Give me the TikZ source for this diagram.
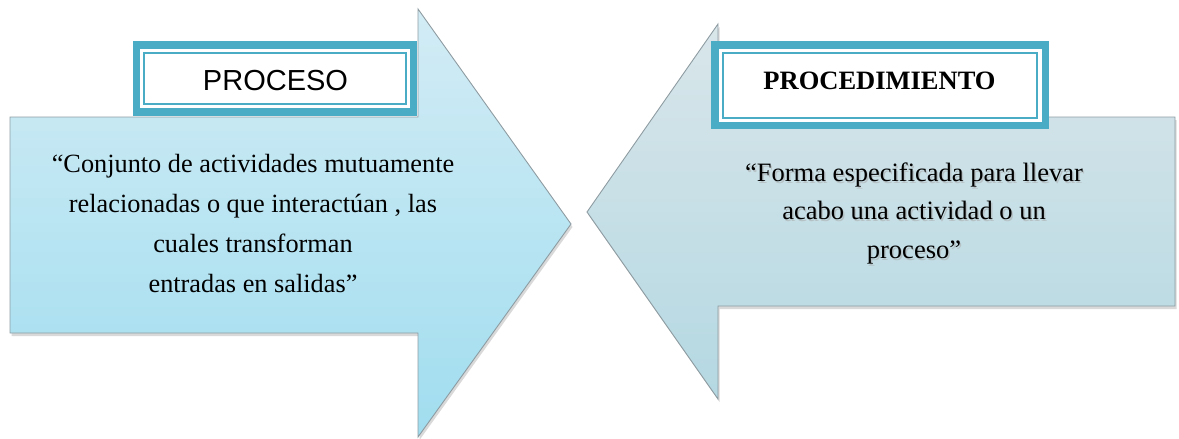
\documentclass[tikz,border=0pt]{standalone}
\usepackage{fontspec}
\setmainfont{Liberation Serif}
\newfontfamily\headsans{Liberation Sans}
\usetikzlibrary{shadows}
\definecolor{teal}{HTML}{4BACC6}
\definecolor{edgegray}{HTML}{8E9CA2}
\definecolor{procTop}{HTML}{D3ECF5}
\definecolor{procBot}{HTML}{A0DDEF}
\definecolor{procdTop}{HTML}{D9E6EA}
\definecolor{procdBot}{HTML}{B4D8E2}
\tikzset{
  bigarrow/.style={draw=edgegray, line width=0.9pt, line join=miter,
    drop shadow={shadow xshift=1.5pt, shadow yshift=-3pt, opacity=0.25, fill=black!60}},
  titleouter/.style={fill=teal, draw=none},
  titleinner/.style={fill=white, draw=none},
  titleline/.style={draw=teal, line width=1.6pt},
  bodytext/.style={align=center, inner sep=0pt, text=black},
}
\begin{document}
\begin{tikzpicture}[x=1pt, y=-1pt]
\useasboundingbox (0,0) rectangle (1179,439);

% arrow pointing right
\path[bigarrow, top color=procTop, bottom color=procBot]
  (10,117) -- (418,117) -- (418,9) -- (571,224) -- (418,437) -- (418,333) -- (10,333) -- cycle;

% arrow pointing left
\path[bigarrow, top color=procdTop, bottom color=procdBot]
  (1175,117) -- (718,117) -- (718,24) -- (587,212) -- (718,399) -- (718,306) -- (1175,306) -- cycle;

% title frames
\fill[titleouter] (133,41) rectangle (417,116);
\fill[titleinner] (140,49) rectangle (410,108);
\draw[titleline] (144,53) rectangle (406,104);

\fill[titleouter] (711,41) rectangle (1049,129);
\fill[titleinner] (719,49) rectangle (1042,122);
\draw[titleline] (723,53) rectangle (1037,118);

% titles
\node[inner sep=0pt, font=\headsans\fontsize{29}{29}\selectfont] (tproc) at (275.5,80.5) {PROCESO};
\node[inner sep=0pt, font=\fontsize{26.5}{26.5}\selectfont\bfseries] (tprocd) at (879.5,80.5) {PROCEDIMIENTO};

% definitions
\node[bodytext, font=\fontsize{26.3}{40}\selectfont] (dproc) at (253,224) {%
  “Conjunto de actividades mutuamente\\
  relacionadas o que interactúan , las\\
  cuales transforman\\
  entradas en salidas”};

\node[bodytext, text=black!35, opacity=0.5, font=\fontsize{26.5}{38.5}\selectfont] (dprocdshadow) at (915.5,215) {%
  “Forma especificada para llevar\\
  acabo una actividad o un\\
  proceso”};
\node[bodytext, font=\fontsize{26.5}{38.5}\selectfont] (dprocd) at (914,213) {%
  “Forma especificada para llevar\\
  acabo una actividad o un\\
  proceso”};
\end{tikzpicture}
\end{document}
